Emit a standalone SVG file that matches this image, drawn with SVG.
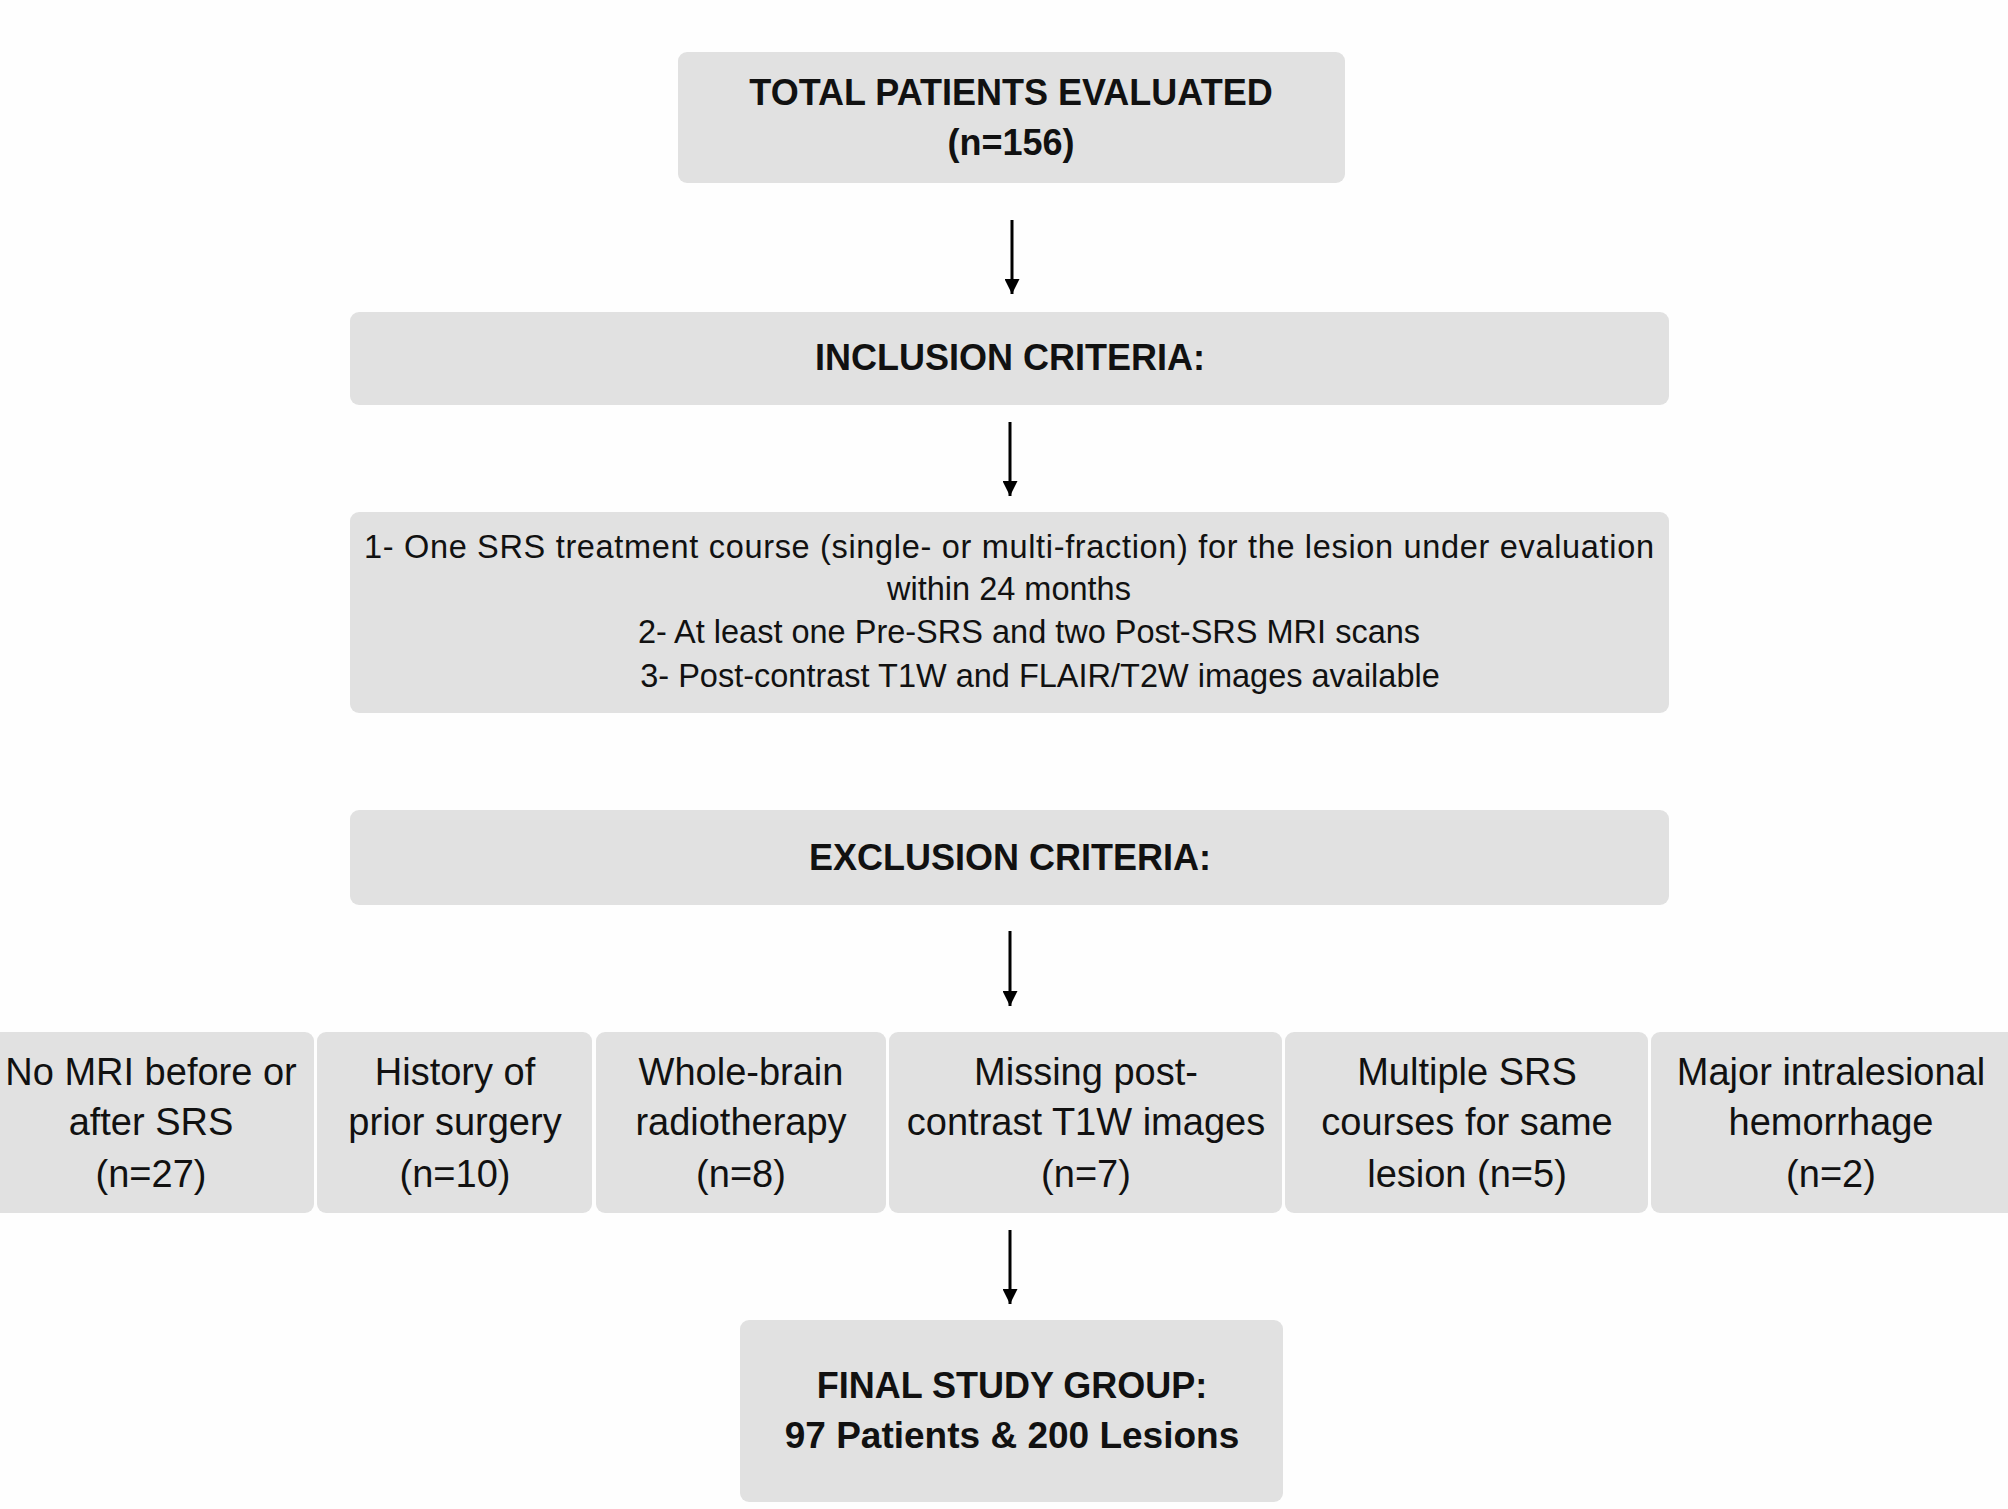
<svg xmlns="http://www.w3.org/2000/svg" width="2008" height="1509" viewBox="0 0 2008 1509">
<style>
.box{fill:#e1e1e1;}
.b{font-family:"Liberation Sans",Arial,sans-serif;font-weight:bold;font-size:36px;fill:#111;text-anchor:middle;}
.r{font-family:"Liberation Sans",Arial,sans-serif;font-size:32.5px;fill:#111;text-anchor:middle;}
.s{font-family:"Liberation Sans",Arial,sans-serif;font-size:38px;fill:#111;text-anchor:middle;}
.c{stroke:#000;stroke-width:3;fill:none;}
</style>
<defs>
<marker id="ah" viewBox="0 0 10 10" refX="10" refY="5" markerWidth="5" markerHeight="5" orient="auto" markerUnits="strokeWidth">
<path d="M0,0 L10,5 L0,10 z" fill="#000"/>
</marker>
</defs>
<rect width="2008" height="1509" fill="#fefefe"/>
<g id="total">
<rect class="box" x="678" y="52" width="667" height="131" rx="9"/>
<text class="b" x="1011" y="105">TOTAL PATIENTS EVALUATED</text>
<text class="b" x="1011" y="155">(n=156)</text>
</g>
<g id="inclusion-header">
<rect class="box" x="350" y="312" width="1319" height="93" rx="9"/>
<text class="b" x="1010" y="370">INCLUSION CRITERIA:</text>
</g>
<g id="inclusion-criteria">
<rect class="box" x="350" y="512" width="1319" height="201" rx="9"/>
<text class="r" x="1009" y="558" textLength="1290">1- One SRS treatment course (single- or multi-fraction) for the lesion under evaluation</text>
<text class="r" x="1009" y="600">within 24 months</text>
<text class="r" x="1029" y="643">2- At least one Pre-SRS and two Post-SRS MRI scans</text>
<text class="r" x="1040" y="687">3- Post-contrast T1W and FLAIR/T2W images available</text>
</g>
<g id="exclusion-header">
<rect class="box" x="350" y="810" width="1319" height="95" rx="9"/>
<text class="b" x="1010" y="870">EXCLUSION CRITERIA:</text>
</g>
<g id="ex1">
<rect class="box" x="-10" y="1032" width="324" height="181" rx="9"/>
<text class="s" x="151" y="1085">No MRI before or</text>
<text class="s" x="151" y="1135">after SRS</text>
<text class="s" x="151" y="1187">(n=27)</text>
</g>
<g id="ex2">
<rect class="box" x="317" y="1032" width="275" height="181" rx="9"/>
<text class="s" x="455" y="1085">History of</text>
<text class="s" x="455" y="1135">prior surgery</text>
<text class="s" x="455" y="1187">(n=10)</text>
</g>
<g id="ex3">
<rect class="box" x="596" y="1032" width="290" height="181" rx="9"/>
<text class="s" x="741" y="1085">Whole-brain</text>
<text class="s" x="741" y="1135">radiotherapy</text>
<text class="s" x="741" y="1187">(n=8)</text>
</g>
<g id="ex4">
<rect class="box" x="889" y="1032" width="393" height="181" rx="9"/>
<text class="s" x="1086" y="1085">Missing post-</text>
<text class="s" x="1086" y="1135">contrast T1W images</text>
<text class="s" x="1086" y="1187">(n=7)</text>
</g>
<g id="ex5">
<rect class="box" x="1285" y="1032" width="363" height="181" rx="9"/>
<text class="s" x="1467" y="1085">Multiple SRS</text>
<text class="s" x="1467" y="1135">courses for same</text>
<text class="s" x="1467" y="1187">lesion (n=5)</text>
</g>
<g id="ex6">
<rect class="box" x="1651" y="1032" width="370" height="181" rx="9"/>
<text class="s" x="1831" y="1085">Major intralesional</text>
<text class="s" x="1831" y="1135">hemorrhage</text>
<text class="s" x="1831" y="1187">(n=2)</text>
</g>
<g id="final">
<rect class="box" x="740" y="1320" width="543" height="182" rx="9"/>
<text class="b" x="1012" y="1398">FINAL STUDY GROUP:</text>
<text class="b" x="1012" y="1448" style="font-size:37px">97 Patients &amp; 200 Lesions</text>
</g>
<g id="connectors">
<line class="c" x1="1012" y1="220" x2="1012" y2="294" marker-end="url(#ah)"/>
<line class="c" x1="1010" y1="422" x2="1010" y2="496" marker-end="url(#ah)"/>
<line class="c" x1="1010" y1="931" x2="1010" y2="1006" marker-end="url(#ah)"/>
<line class="c" x1="1010" y1="1230" x2="1010" y2="1304" marker-end="url(#ah)"/>
</g>
</svg>
